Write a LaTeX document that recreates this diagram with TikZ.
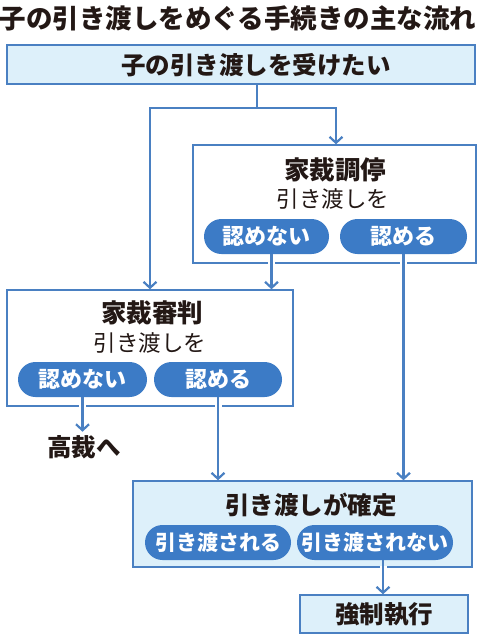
\documentclass[tikz,border=0pt]{standalone}
\usepackage{fontspec}
\setmainfont{Noto Sans CJK JP}
\newfontfamily\heavy{Noto Sans CJK JP Black}
\usetikzlibrary{arrows.meta,shapes.misc}
\definecolor{frame}{HTML}{4A80C2}
\definecolor{pillblue}{HTML}{3C7BC6}
\definecolor{pale}{HTML}{DDF0FA}
\definecolor{ink}{HTML}{231815}

\begin{document}
\begin{tikzpicture}[x=1pt, y=-1pt, >={Straight Barb[length=6pt,width=13pt]}]
    \tikzstyle{box}=[draw=frame, line width=1.4pt, fill=white, inner sep=0pt]
    \tikzstyle{palebox}=[box, fill=pale]
    \tikzstyle{head}=[font=\heavy\fontsize{24.5}{24.5}\selectfont, text=ink]
    \tikzstyle{court}=[font=\heavy\fontsize{25.5}{25.5}\selectfont, text=ink]
    \tikzstyle{sub}=[font=\fontsize{22.5}{22.5}\selectfont, text=ink]
    \tikzstyle{pill}=[rounded rectangle, fill=pillblue, text=white, font=\bfseries\fontsize{22}{22}\selectfont, minimum height=35pt, inner sep=0pt]
    \tikzstyle{longpill}=[pill, font=\bfseries\fontsize{21}{21}\selectfont]
    \tikzstyle{gap}=[fill=white, minimum width=7pt, minimum height=4pt, inner sep=0pt]
    \tikzstyle{link}=[draw=frame, line width=2.2pt]

    \useasboundingbox (0,0) rectangle (483,640);

    % Titolo
    \node[font=\heavy\fontsize{26.5}{26.5}\selectfont, text=ink] (title) at (238,18) {子の引き渡しをめぐる手続きの主な流れ};

    % Riquadri
    \node[palebox, minimum width=468pt, minimum height=39pt] (wish) at (241,64.5) {};
    \node[head] (wishtxt) at (256,65) {子の引き渡しを受けたい};
    \node[box, minimum width=283pt, minimum height=118pt] (chotei) at (334.5,204) {};
    \node[court] (choteitxt) at (335,170) {家裁調停};
    \node[sub] (choteisub) at (333,199) {引き渡しを};
    \node[box, minimum width=286pt, minimum height=116pt] (shinpan) at (150,348) {};
    \node[court] (shinpantxt) at (152,313) {家裁審判};
    \node[sub] (shinpansub) at (150,343) {引き渡しを};
    \node[palebox, minimum width=339pt, minimum height=86pt] (kakutei) at (302.5,524) {};
    \node[head] (kakuteitxt) at (311,505) {引き渡しが確定};
    \node[palebox, head, minimum width=168pt, minimum height=38pt] (shikko) at (384,614) {強制執行};
    \node[head] (kosai) at (84,447) {高裁へ};

    % Esiti
    \node[pill, minimum width=125pt] (noC) at (266.5,236.5) {認めない};
    \node[pill, minimum width=127pt] (yesC) at (403.5,236.5) {認める};
    \node[pill, minimum width=129pt] (noS) at (82.5,379.5) {認めない};
    \node[pill, minimum width=128pt] (yesS) at (218,379.5) {認める};
    \node[longpill, minimum width=146pt] (doneK) at (218,542.5) {引き渡される};
    \node[longpill, minimum width=156pt] (notK) at (375,542.5) {引き渡されない};

    \coordinate (split) at (257,108);
    \coordinate (noCout) at ([xshift=5pt]noC.south);
    \coordinate (notKout) at ([xshift=8pt]notK.south);

    % Interruzioni sui bordi
    \node[gap] (gapA) at (noCout |- chotei.south) {};
    \node[gap] (gapB) at (yesC.south |- chotei.south) {};
    \node[gap] (gapC) at (noS.south |- shinpan.south) {};
    \node[gap] (gapD) at (yesS.south |- shinpan.south) {};
    \node[gap] (gapE) at (notKout |- kakutei.south) {};

    % Frecce
    \draw[link] (wish.south -| split) -- (split);
    \draw[link, ->] (split) -| (shinpan.north);
    \draw[link, ->] (split) -| ([xshift=1.5pt]chotei.north);
    \draw[link, ->] (noCout) -- (noCout |- shinpan.north);
    \draw[link, ->] (yesC.south) -- (yesC.south |- kakutei.north);
    \draw[link, ->] (noS.south) -- (noS.south |- kosai.north);
    \draw[link, ->] (yesS.south) -- (yesS.south |- kakutei.north);
    \draw[link, ->] (notKout) -- (notKout |- shikko.north);
\end{tikzpicture}
\end{document}
